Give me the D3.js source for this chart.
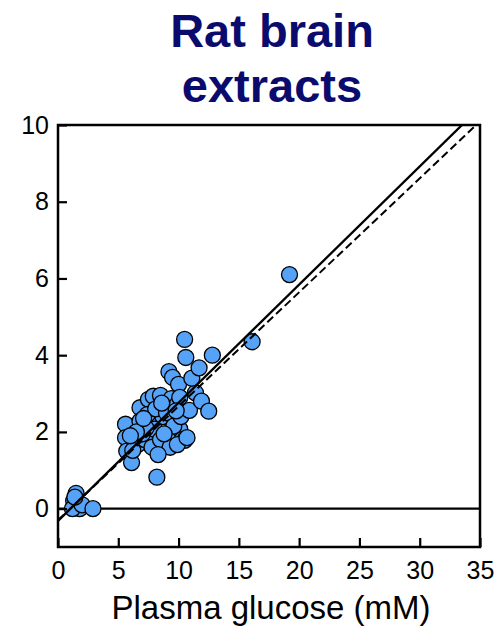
<!DOCTYPE html>
<html>
<head>
<meta charset="utf-8">
<script src="https://cdn.jsdelivr.net/npm/d3@7"></script>
<style>
  body { margin: 0; background: #fff; }
  svg { font-family: Arial, 'Liberation Sans', sans-serif; }
</style>
</head>
<body>
<div id="chart"></div>
<script>
var titleLines = ['Rat brain', 'extracts'];
var xLabel = 'Plasma glucose (mM)';
var xTicks = [0, 5, 10, 15, 20, 25, 30, 35];
var yTicks = [0, 2, 4, 6, 8, 10];

// plasma glucose (mM) and brain extract value
var plasmaGlucose = [
    1.5, 1.3, 1.6, 1.8, 1.2, 2.0, 2.9, 1.4,
    5.6, 5.6, 5.7, 6.1, 6.8, 6.8, 6.6, 6.2, 7.2, 7.5, 7.9, 7.6,
    8.5, 9.4, 9.9, 8.7, 9.7, 8.0, 9.3, 10.1, 10.3, 10.5, 8.9, 7.8,
    8.5, 9.3, 9.9, 8.3, 7.0, 7.4, 8.1, 9.0, 9.6, 10.2, 8.8, 7.3,
    9.2, 9.5, 10.0, 10.1, 10.9, 11.4, 11.9, 12.5, 11.1, 11.7, 10.6, 10.5,
    12.8, 8.2, 16.1, 19.2, 6.5, 7.1, 8.6, 9.8, 10.7, 6.0
];
var brainGlucose = [
    0.4, 0.2, 0.1, 0.0, 0.0, 0.1, 0.0, 0.3,
    2.2, 1.85, 1.5, 1.2, 2.63, 2.28, 1.67, 1.52, 1.8, 2.85, 2.93, 2.2,
    2.95, 2.87, 2.72, 2.4, 2.33, 2.07, 2.0, 2.07, 1.8, 1.78, 1.67, 1.6,
    1.8, 1.6, 1.67, 1.41, 1.95, 2.45, 2.6, 2.5, 2.15, 2.4, 1.95, 2.1,
    3.57, 3.42, 3.24, 2.9, 2.56, 3.02, 2.8, 2.54, 3.4, 3.67, 3.94, 4.41,
    4.0, 0.82, 4.35, 6.1, 2.0, 2.35, 2.75, 2.55, 1.85, 1.9
];

// regression lines: [intercept, slope]
var fitSolid = [-0.32, 0.308];
var fitDashed = [-0.30, 0.297];

var width = 503, height = 630;
var plotLeft = 58, plotRight = 480, plotTop = 125, plotBottom = 547;

var svg = d3.select('#chart')
            .append('svg')
            .attr('width', width)
            .attr('height', height);

var x = d3.scaleLinear().domain([0, 35]).range([plotLeft, plotRight]);
var y = d3.scaleLinear().domain([-1, 10]).range([plotBottom, plotTop]);

// title
svg.append('text')
   .attr('x', 272)
   .attr('y', 47)
   .attr('text-anchor', 'middle')
   .attr('fill', '#0b0b6e')
   .style('font-size', '47px')
   .style('font-weight', 'bold')
   .selectAll('tspan')
   .data(titleLines)
   .enter()
   .append('tspan')
   .attr('x', 272)
   .attr('dy', (d, i) => i === 0 ? 0 : 55)
   .text(d => d);

svg.append('clipPath')
   .attr('id', 'plot-clip')
   .append('rect')
   .attr('x', plotLeft)
   .attr('y', plotTop)
   .attr('width', plotRight - plotLeft)
   .attr('height', plotBottom - plotTop);

var plot = svg.append('g').attr('clip-path', 'url(#plot-clip)');

// zero line
plot.append('line')
    .attr('x1', x(0))
    .attr('x2', x(35))
    .attr('y1', y(0))
    .attr('y2', y(0))
    .attr('stroke', '#000')
    .attr('stroke-width', 2.2);

// points
plot.selectAll('circle')
    .data(plasmaGlucose.map((g, i) => ({ x: g, y: brainGlucose[i] })))
    .enter()
    .append('circle')
    .attr('cx', d => x(d.x))
    .attr('cy', d => y(d.y))
    .attr('r', 8)
    .attr('fill', '#55a2f6')
    .attr('stroke', '#000')
    .attr('stroke-width', 1.3);

var fitLine = fit => d3.line()
    .x(d => x(d))
    .y(d => y(fit[0] + fit[1] * d));

plot.append('path')
    .datum([0, 36])
    .attr('d', fitLine(fitDashed))
    .attr('fill', 'none')
    .attr('stroke', '#000')
    .attr('stroke-width', 2)
    .attr('stroke-dasharray', '8,4');

plot.append('path')
    .datum([0, 36])
    .attr('d', fitLine(fitSolid))
    .attr('fill', 'none')
    .attr('stroke', '#000')
    .attr('stroke-width', 2.3);

// frame
svg.append('rect')
   .attr('x', plotLeft)
   .attr('y', plotTop)
   .attr('width', plotRight - plotLeft)
   .attr('height', plotBottom - plotTop)
   .attr('fill', 'none')
   .attr('stroke', '#000')
   .attr('stroke-width', 2.5);

// axes with inward ticks
svg.append('g')
   .attr('transform', `translate(0,${plotBottom})`)
   .call(d3.axisBottom(x).tickValues(xTicks).tickSize(-9).tickPadding(14))
   .call(g => g.select('.domain').remove())
   .call(g => g.selectAll('line').attr('stroke-width', 2.2))
   .call(g => g.selectAll('text').style('font-size', '25px').attr('fill', '#000').attr('font-family', null));

svg.append('g')
   .attr('transform', `translate(${plotLeft},0)`)
   .call(d3.axisLeft(y).tickValues(yTicks).tickSize(-9).tickPadding(9))
   .call(g => g.select('.domain').remove())
   .call(g => g.selectAll('line').attr('stroke-width', 2.2))
   .call(g => g.selectAll('text').style('font-size', '25px').attr('fill', '#000').attr('font-family', null));

svg.append('text')
   .attr('x', 271)
   .attr('y', 619)
   .attr('text-anchor', 'middle')
   .style('font-size', '33px')
   .text(xLabel);
</script>
</body>
</html>
